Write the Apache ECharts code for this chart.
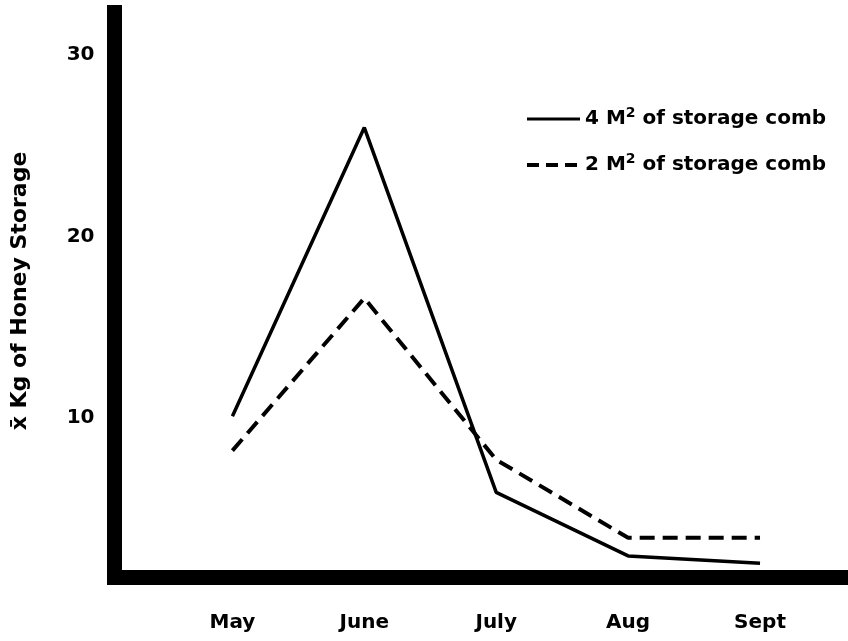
<!DOCTYPE html>
<html>
<head>
<meta charset="utf-8">
<script src="https://cdn.jsdelivr.net/npm/echarts@6/dist/echarts.min.js"></script>
<style>
  html, body { margin: 0; padding: 0; background: #fff; }
  #main { width: 848px; height: 641px; }
</style>
</head>
<body>
<div id="main"></div>
<script>
// months on the x axis
var months = ['May', 'June', 'July', 'Aug', 'Sept'];
// mean kg of honey storage
var comb4 = [10.1, 26.0, 5.9, 2.4, 2.0];
var comb2 = [8.2, 16.6, 7.7, 3.4, 3.4];
var yTicks = [10, 20, 30];

var font = '"DejaVu Sans", sans-serif';

function toPoints (vals) {
  return vals.map(function (v, i) { return [i, v]; });
}

var myChart = echarts.init(document.getElementById('main'));

var option = {
  backgroundColor: '#fff',
  animation: false,
  grid: {
    left: 114.5,
    right: 0,
    top: 5,
    bottom: 64,
    containLabel: false,
    outerBoundsMode: 'none'
  },
  legend: {
    orient: 'vertical',
    left: 520,
    top: 101,
    itemWidth: 53,
    itemHeight: 14,
    itemGap: 23,
    itemStyle: { opacity: 0 },
    textStyle: {
      fontFamily: font,
      fontWeight: 'bold',
      fontSize: 20,
      color: '#000',
      rich: {
        sup: { fontFamily: font, fontWeight: 'bold', fontSize: 14, color: '#000', verticalAlign: 'bottom', padding: [0, 0, 12, 0] }
      }
    },
    formatter: function (name) {
      return name.replace('M2', 'M{sup|2}');
    },
    data: [
      { name: '4 M2 of storage comb', lineStyle: { color: '#000', width: 3, type: 'solid' } },
      { name: '2 M2 of storage comb', lineStyle: { color: '#000', width: 4, type: [12, 7] } }
    ]
  },
  xAxis: {
    type: 'value',
    min: -0.894,
    max: 4.667,
    splitLine: { show: false },
    axisTick: { show: false },
    axisLine: {
      show: true,
      onZero: false,
      lineStyle: { color: '#000', width: 15, cap: 'square' }
    },
    axisLabel: {
      customValues: [0, 1, 2, 3, 4],
      margin: 36,
      fontFamily: font,
      fontWeight: 'bold',
      fontSize: 20,
      color: '#000',
      formatter: function (v) { return months[Math.round(v)]; }
    }
  },
  yAxis: {
    type: 'value',
    min: 1.24,
    max: 32.75,
    name: 'x\u0304 Kg of Honey Storage',
    nameLocation: 'middle',
    nameGap: 83,
    nameRotate: 90,
    nameTextStyle: {
      fontFamily: font,
      fontWeight: 'bold',
      fontSize: 22,
      color: '#000'
    },
    splitLine: { show: false },
    axisTick: { show: false },
    axisLine: {
      show: true,
      onZero: false,
      lineStyle: { color: '#000', width: 15, cap: 'butt' }
    },
    axisLabel: {
      customValues: yTicks,
      margin: 20,
      fontFamily: font,
      fontWeight: 'bold',
      fontSize: 20,
      color: '#000'
    }
  },
  series: [
    {
      name: '4 M2 of storage comb',
      type: 'line',
      data: toPoints(comb4),
      symbol: 'none',
      lineStyle: { color: '#000', width: 3.5 },
      itemStyle: { color: '#000' }
    },
    {
      name: '2 M2 of storage comb',
      type: 'line',
      data: toPoints(comb2),
      symbol: 'none',
      lineStyle: { color: '#000', width: 4, type: [15, 8] },
      itemStyle: { color: '#000' }
    }
  ]
};

option && myChart.setOption(option);
</script>
</body>
</html>
